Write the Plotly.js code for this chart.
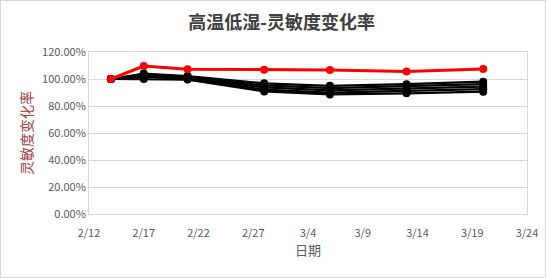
<!DOCTYPE html>
<html>
<head>
<meta charset="utf-8">
<script src="https://cdn.plot.ly/plotly-3.0.1.min.js"></script>
<style>
html,body{margin:0;padding:0;background:#fff;}
#wrap{position:absolute;left:0;top:0;width:544px;height:276px;border:1px solid #d9d9d9;}
#chart{width:544px;height:276px;}
</style>
</head>
<body>
<div id="wrap"><div id="chart"></div></div>
<script>
const dates = ['2023-02-14','2023-02-17','2023-02-21','2023-02-28','2023-03-06','2023-03-13','2023-03-20'];
const redSeries = [1.00, 1.096, 1.072, 1.068, 1.067, 1.055, 1.075];
const black1 = [1.00, 1.040, 1.022, 0.968, 0.950, 0.962, 0.980];
const black2 = [1.00, 1.035, 1.016, 0.952, 0.932, 0.945, 0.962];
const black3 = [1.00, 1.027, 1.010, 0.938, 0.916, 0.928, 0.943];
const black4 = [1.00, 1.015, 1.002, 0.922, 0.900, 0.910, 0.925];
const black5 = [1.00, 1.000, 0.996, 0.908, 0.886, 0.894, 0.906];
const blackSeries = [black1, black2, black3, black4, black5];
const xTicksStart = '2023-02-12';
const xRange = ['2023-02-12','2023-03-24'];

const traces = [];
blackSeries.forEach(s => {
  traces.push({x: dates, y: s, type:'scatter', mode:'lines+markers',
    line:{color:'#000000', width:2.25}, marker:{color:'#000000', size:8}, showlegend:false});
});
traces.push({x: dates, y: redSeries, type:'scatter', mode:'lines+markers',
  line:{color:'#ff0000', width:3}, marker:{color:'#ff0000', size:8}, showlegend:false});

const layout = {
  width:544, height:276,
  margin:{l:88, r:18, t:51, b:63},
  paper_bgcolor:'#ffffff', plot_bgcolor:'#ffffff',
  font:{family:'"Noto Sans CJK SC", "Noto Sans", sans-serif', color:'#595959', size:10},
  title:{text:'<b>高温低湿-灵敏度变化率</b>', x:0.516, xref:'container', xanchor:'center', y:0.92, yanchor:'middle',
    font:{size:18, color:'#404040', family:'"Noto Sans CJK SC", sans-serif'}},
  xaxis:{type:'date', range:xRange, tick0:xTicksStart, dtick:5*86400000, tickformat:'%-m/%-d',
    showgrid:false, showline:true, linecolor:'#d9d9d9', linewidth:1, mirror:true, zeroline:false,
    ticks:'outside', ticklen:9, tickcolor:'rgba(0,0,0,0)', tickfont:{size:11, color:'#595959'},
    title:{text:'日期', font:{size:13, color:'#595959'}, standoff:5}},
  yaxis:{range:[0,1.2], dtick:0.2, tickformat:'.2%', showgrid:true, gridcolor:'#d9d9d9', gridwidth:1,
    showline:true, linecolor:'#d9d9d9', linewidth:1, mirror:true, zeroline:false, ticks:'',
    tickfont:{size:11, color:'#595959'},
    title:{text:'灵敏度变化率', font:{size:14, color:'#a0403c'}, standoff:6}}
};
Plotly.newPlot('chart', traces, layout, {displayModeBar:false, staticPlot:true});
</script>
</body>
</html>
